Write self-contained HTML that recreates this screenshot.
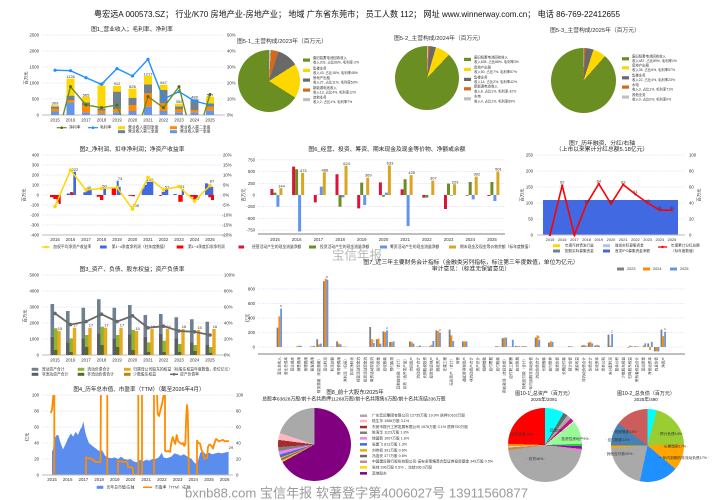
<!DOCTYPE html>
<html><head><meta charset="utf-8">
<style>
html,body{margin:0;padding:0;background:#fff}
#w{position:relative;width:714px;height:500px;overflow:hidden;background:#fff}
.p{position:absolute;border-radius:50%}
svg{position:absolute;left:0;top:0}
text{font-family:"Liberation Sans","Noto Sans CJK SC",sans-serif;fill:#333;dominant-baseline:central}
.t{font-size:5.8px;text-anchor:middle;fill:#222}
.k{font-size:4.3px}
.l{font-size:3.8px}
.s{font-size:3.4px}
.g{stroke:#c8c8f0;stroke-width:0.5;stroke-dasharray:1.2 1.2;fill:none}
.ax{stroke:#bbb;stroke-width:1;fill:none}
</style></head><body><div id="w">
<div class="p" style="left:238px;top:50px;width:62px;height:62px;background:conic-gradient(#C0C0C0 0 1%,#D2691E 1% 5%,#696969 5% 16%,#FFD700 16% 34%,#6B8E23 34% 100%)"></div>
<div class="p" style="left:395px;top:46px;width:64px;height:64px;background:conic-gradient(#C0C0C0 0 0.6%,#D2691E 0.6% 1.3%,#696969 1.3% 4.5%,#FFD700 4.5% 12%,#6B8E23 12% 100%)"></div>
<div class="p" style="left:550.5px;top:47.5px;width:65px;height:65px;background:conic-gradient(#C0C0C0 0 0.3%,#D2691E 0.3% 1%,#696969 1% 5%,#FFD700 5% 11.5%,#6B8E23 11.5% 100%)"></div>
<div class="p" style="left:277.5px;top:407.5px;width:73px;height:73px;background:conic-gradient(#800080 0 67%,#FFD700 67% 67.5%,#BC8F8F 67.5% 68%,#696969 68% 68.6%,#FFA500 68.6% 69.2%,#4169E1 69.2% 70.5%,#EE82EE 70.5% 72.1%,#808080 72.1% 73.9%,#A52A2A 73.9% 77%,#FFB6C1 77% 80.1%,#A9A9A9 80.1% 100%)"></div>
<div class="p" style="left:508.3px;top:408.3px;width:73.4px;height:73.4px;background:conic-gradient(#00FFFF 0 30deg,#696969 30deg 37deg,#A9A9A9 37deg 44deg,#C71585 44deg 50deg,#E8E8E8 50deg 52deg,#98FB98 52deg 88deg,#32CD32 88deg 92deg,#9400D3 92deg 96deg,#FF69B4 96deg 98deg,#A9A9A9 98deg 262deg,#CD853F 262deg 266deg,#D3D3D3 266deg 268deg,#FF8C00 268deg 272deg,#FF0000 272deg 360deg)"></div>
<div class="p" style="left:610.5px;top:408.5px;width:73px;height:73px;background:conic-gradient(#00FFFF 0 14.5deg,#9ACD32 14.5deg 88deg,#FFA500 88deg 130deg,#1E90FF 130deg 192deg,#A9A9A9 192deg 266deg,#FFA500 266deg 270deg,#4682B4 270deg 307deg,#CD5C5C 307deg 360deg)"></div>

<svg width="714" height="500" viewBox="0 0 714 500">
<defs>
<clipPath id="c1"><rect x="42" y="30" width="184" height="85"/></clipPath>
<clipPath id="c4"><rect x="40" y="395" width="200" height="80"/></clipPath>
</defs>

<text x="357" y="14" font-size="8.3" text-anchor="middle" textLength="526" lengthAdjust="spacingAndGlyphs" style="fill:#111">粤宏远A 000573.SZ； 行业/K70 房地产业-房地产业； 地域 广东省东莞市； 员工人数 112； 网址 www.winnerway.com.cn； 电话 86-769-22412655</text>

<!-- ===== Chart 1 ===== -->
<text class="t" x="132" y="30">图1_营业收入；毛利率、净利率</text>
<path class="g" d="M42 35H225M42 51H225M42 67H225M42 83H225M42 99H225"/>
<path class="ax" d="M42 115H225"/>
<g class="k" style="text-anchor:end"><text x="39" y="35">2500</text><text x="39" y="51">2000</text><text x="39" y="67">1500</text><text x="39" y="83">1000</text><text x="39" y="99">500</text><text x="39" y="115">0</text></g>
<g class="k"><text x="227" y="35">50%</text><text x="227" y="51">40%</text><text x="227" y="67">30%</text><text x="227" y="83">20%</text><text x="227" y="99">10%</text><text x="227" y="115">0%</text></g>
<text class="k" transform="translate(26,78) rotate(-90)" style="text-anchor:middle">百万元</text>
<g class="k" style="text-anchor:middle"><text x="55" y="120">2015</text><text x="70.5" y="120">2016</text><text x="86" y="120">2017</text><text x="101.5" y="120">2018</text><text x="117" y="120">2019</text><text x="132.5" y="120">2020</text><text x="148" y="120">2021</text><text x="163.5" y="120">2022</text><text x="179" y="120">2023</text><text x="194.5" y="120">2024</text><text x="210" y="120">2025</text></g>
<path fill="#6495ED" d="M51 111.48h8V115h-8zM66.5 102.33h8V115h-8zM82 112.34h8V115h-8zM97.5 113.34h8V115h-8zM113 112.34h8V115h-8zM128.5 111h8V115h-8zM144 106.68h8V115h-8zM159.5 111h8V115h-8zM175 112.34h8V115h-8zM190.5 112.34h8V115h-8zM206 110.68h8V115h-8z"/>
<path fill="#FF8C00" d="M51 108.92h8V111.48h-8zM66.5 99.96h8V102.33h-8zM82 105.02h8V112.34h-8zM97.5 110.68h8V113.34h-8zM113 109.02h8V112.34h-8zM128.5 105.02h8V111h-8zM144 93.34h8V106.68h-8zM159.5 103.35h8V111h-8zM175 109.02h8V112.34h-8zM190.5 110.01h8V112.34h-8zM206 106.68h8V110.68h-8z"/>
<path fill="#708090" d="M51 106.68h8V108.92h-8zM66.5 95.67h8V99.96h-8zM82 102.33h8V105.02h-8zM97.5 108.34h8V110.68h-8zM113 91.67h8V109.02h-8zM128.5 97.69h8V105.02h-8zM144 84.34h8V93.34h-8zM159.5 90.04h8V103.35h-8zM175 106.36h8V109.02h-8zM190.5 99.35h8V110.01h-8zM206 103.35h8V106.68h-8z"/>
<path fill="#FFD700" d="M51 105.11h8V106.68h-8zM66.5 78.68h8V95.67h-8zM82 96.92h8V102.33h-8zM97.5 85.66h8V108.34h-8zM113 85.82h8V91.67h-8zM128.5 88.57h8V97.69h-8zM144 76.06h8V84.34h-8zM159.5 84.7h8V90.04h-8zM175 103.74h8V106.36h-8zM206 96.86h8V103.35h-8z"/>
<g class="k" style="text-anchor:middle;font-size:4px"><text x="55" y="103">309</text><text x="70.5" y="76.5">1135</text><text x="86" y="95">565</text><text x="101.5" y="83.5">917</text><text x="117" y="83.5">912</text><text x="132.5" y="86.5">826</text><text x="148" y="74">1217</text><text x="163.5" y="82.5">947</text><text x="179" y="101.5">352</text><text x="194.5" y="97">489</text><text x="210" y="95">567</text></g>
<g clip-path="url(#c1)">
<polyline fill="none" stroke="#1E90FF" stroke-width="1.4" points="55,70.2 70.5,70.68 86,77.72 101.5,84.28 117,68.6 132.5,75.96 148,59.32 163.5,99 179,91.64 194.5,101 210,105"/>
<g fill="#1E90FF"><circle cx="55" cy="70.2" r="1.6"/><circle cx="70.5" cy="70.68" r="1.6"/><circle cx="86" cy="77.72" r="1.6"/><circle cx="101.5" cy="84.28" r="1.6"/><circle cx="117" cy="68.6" r="1.6"/><circle cx="132.5" cy="75.96" r="1.6"/><circle cx="148" cy="59.32" r="1.6"/><circle cx="163.5" cy="99" r="1.6"/><circle cx="179" cy="91.64" r="1.6"/><circle cx="194.5" cy="101" r="1.6"/><circle cx="210" cy="105" r="1.6"/></g>
<polyline fill="none" stroke="#6B8E23" stroke-width="1.4" points="55,147 70.5,86.68 86,105 101.5,107.64 117,105 132.5,147 148,96.6 163.5,107.64 179,86.68 194.5,147 210,94.36"/>
<g fill="#4F6B1A"><circle cx="70.5" cy="86.68" r="1.5"/><circle cx="86" cy="105" r="1.5"/><circle cx="101.5" cy="107.64" r="1.5"/><circle cx="117" cy="105" r="1.5"/><circle cx="148" cy="96.6" r="1.5"/><circle cx="163.5" cy="107.64" r="1.5"/><circle cx="179" cy="86.68" r="1.5"/><circle cx="210" cy="94.36" r="1.5"/></g>
</g>
<path d="M56.7 127.7h10" stroke="#6B8E23" stroke-width="1.2"/><circle cx="61.7" cy="127.7" r="1.3" fill="#4F6B1A"/>
<path d="M88 127.7h10" stroke="#1E90FF" stroke-width="1.2"/><circle cx="93" cy="127.7" r="1.3" fill="#1E90FF"/>
<rect x="118" y="126.2" width="7" height="3" fill="#FFD700"/><rect x="170" y="126.2" width="7" height="3" fill="#FF8C00"/>
<rect x="118" y="130.2" width="7" height="3" fill="#708090"/><rect x="170" y="130.2" width="7" height="3" fill="#6495ED"/>
<g class="l"><text x="69" y="127.7">净利率</text><text x="100" y="127.7">毛利率</text><text x="128" y="127.7">营业收入第四季度</text><text x="180" y="127.7">营业收入第二季度</text><text x="128" y="131.7">营业收入第三季度</text><text x="180" y="131.7">营业收入第一季度</text></g>

<!-- ===== Pie 5 titles / legends ===== -->
<g class="t" style="text-anchor:start"><text x="237" y="42">图5-1_主营构成/2023年（百万元）</text><text x="394" y="39">图5-2_主营构成/2024年（百万元）</text><text x="550" y="31">图5-3_主营构成/2025年（百万元）</text></g>
<g>
<rect x="303" y="58.5" width="7" height="3.2" fill="#6B8E23"/><rect x="303" y="68.8" width="7" height="3.2" fill="#FFD700"/><rect x="303" y="78.5" width="7" height="3.2" fill="#696969"/><rect x="303" y="88.5" width="7" height="3.2" fill="#D2691E"/><rect x="303" y="98" width="7" height="3.2" fill="#C0C0C0"/>
<g class="s"><text x="313" y="58">废旧铅蓄电池回收收入</text><text x="313" y="62.6">收入203, 占比66%, 毛利率-2%</text><text x="313" y="68.3">售楼业务</text><text x="313" y="72.9">收入43, 占比18%, 毛利率48%</text><text x="313" y="78">房地产出租</text><text x="313" y="82.6">收入27, 占比11%, 毛利率53%</text><text x="313" y="88">新能源电池收入</text><text x="313" y="92.6">收入13, 占比4%, 毛利率12%</text><text x="313" y="97.5">其他业务</text><text x="313" y="102.1">收入2, 占比1%, 毛利率7%</text></g>
<rect x="464" y="57.8" width="7" height="3.2" fill="#6B8E23"/><rect x="464" y="67.8" width="7" height="3.2" fill="#FFD700"/><rect x="464" y="77.8" width="7" height="3.2" fill="#696969"/><rect x="464" y="87.2" width="7" height="3.2" fill="#D2691E"/><rect x="464" y="97.2" width="7" height="3.2" fill="#C0C0C0"/>
<g class="s"><text x="474" y="57.3">废旧铅蓄电池回收收入</text><text x="474" y="61.9">收入628, 占比88%, 毛利率3%</text><text x="474" y="67.3">房地产出租</text><text x="474" y="71.9">收入50, 占比7%, 毛利率57%</text><text x="474" y="77.3">售楼业务</text><text x="474" y="81.9">收入14, 占比2%, 毛利率42%</text><text x="474" y="86.7">新能源电池收入</text><text x="474" y="91.3">收入8, 占比1%, 毛利率-32%</text><text x="474" y="96.7">水电</text><text x="474" y="101.3">收入4, 占比1%, 毛利率69%</text></g>
<rect x="622" y="57.2" width="7" height="3.2" fill="#6B8E23"/><rect x="622" y="66.2" width="7" height="3.2" fill="#FFD700"/><rect x="622" y="76.2" width="7" height="3.2" fill="#696969"/><rect x="622" y="85.5" width="7" height="3.2" fill="#D2691E"/><rect x="622" y="95.5" width="7" height="3.2" fill="#C0C0C0"/>
<g class="s"><text x="632" y="56.7">废旧铅蓄电池回收收入</text><text x="632" y="61">收入487, 占比89%, 毛利率1%</text><text x="632" y="65.7">房地产出租</text><text x="632" y="70">收入35, 占比6%, 毛利率57%</text><text x="632" y="75.7">售楼业务</text><text x="632" y="80">收入22, 占比4%, 毛利率23%</text><text x="632" y="85">水电</text><text x="632" y="89.3">收入3, 占比1%, 毛利率71%</text><text x="632" y="95">其他业务</text><text x="632" y="99.3">收入0, 占比0%, 毛利率0%</text></g>
</g>

<!-- ===== Chart 2 ===== -->
<text class="t" x="132" y="150">图2_净利润、扣非净利润；净资产收益率</text>
<path class="g" d="M42 155H225M42 165H225M42 175H225M42 185H225M42 195H225M42 205H225M42 215H225M42 225H225"/>
<path class="ax" d="M42 235H225"/>
<g class="k" style="text-anchor:end"><text x="39" y="155">400</text><text x="39" y="165">300</text><text x="39" y="175">200</text><text x="39" y="185">100</text><text x="39" y="195">0</text><text x="39" y="205">-100</text><text x="39" y="215">-200</text><text x="39" y="225">-300</text><text x="39" y="235">-400</text></g>
<g class="k"><text x="223" y="155">20%</text><text x="223" y="165">15%</text><text x="223" y="175">10%</text><text x="223" y="185">5%</text><text x="223" y="195">0%</text><text x="222" y="205">-5%</text><text x="222" y="215">-10%</text><text x="222" y="225">-15%</text><text x="222" y="235">-20%</text></g>
<text class="k" transform="translate(24,195) rotate(-90)" style="text-anchor:middle">百万元</text>
<g class="k" style="text-anchor:middle"><text x="55" y="239.5">2015</text><text x="70.5" y="239.5">2016</text><text x="86" y="239.5">2017</text><text x="101.5" y="239.5">2018</text><text x="117" y="239.5">2019</text><text x="132.5" y="239.5">2020</text><text x="148" y="239.5">2021</text><text x="163.5" y="239.5">2022</text><text x="179" y="239.5">2023</text><text x="194.5" y="239.5">2024</text><text x="210" y="239.5">2025</text></g>
<path fill="#4169E1" d="M66.7 193.5h3.3v1.5h-3.3zM70 192h2v3h-2zM73.3 171.7h2.7v23.3h-2.7zM83.3 192.3h2.7v2.7h-2.7zM86 190h2.7v5h-2.7zM88.7 190h3v5h-3zM103.3 188.3h2.7v6.7h-2.7zM116.7 180.7h2v14.3h-2zM118.7 186.7h2v8.3h-2zM141.7 188.3h2.6v6.7h-2.6zM144.3 185h2.4v10h-2.4zM146.7 181.7h3.3v13.3h-3.3zM150 181.7h3.3v13.3h-3.3zM161.7 191.7h3.3v3.3h-3.3zM165 189.3h3.3v5.7h-3.3zM173.3 194h3.4v1h-3.4zM181.7 189.3h2.3v5.7h-2.3zM195 195h3v3h-3zM205 183.3h2.7v11.7h-2.7zM207.7 184.3h3v10.7h-3zM210.7 186.7h2.6v8.3h-2.6z"/>
<path fill="#FF0000" d="M50 195h3.3v2.3h-3.3zM53.3 195h3.4v4h-3.4zM56.7 195h2v6.7h-2zM58.7 195h2v9h-2zM70.7 192.3h2.6v2.7h-2.6zM96.7 195h3.3v1.7h-3.3zM100 195h3.3v5h-3.3zM111.7 188.3h4.3v6.7h-4.3zM128.3 195h3.4v0.7h-3.4zM131.7 195h3.3v1.3h-3.3zM159.3 195h2.4v1h-2.4zM178.3 195h4.4v6.7h-4.4zM190 195h3.3v1.7h-3.3zM193.3 195h3.4v5h-3.4zM208.3 195h2.7v2.3h-2.7zM211 195h3v5h-3z"/>
<g class="k" style="text-anchor:middle;font-size:4px"><text x="58" y="202">-78</text><text x="75" y="169.5">222</text><text x="89" y="187.5">40</text><text x="104.5" y="186">50</text><text x="120" y="178.5">73</text><text x="135" y="205.5">-105</text><text x="150" y="179.5">150</text><text x="167" y="187">57</text><text x="182.5" y="186.5">51</text><text x="197" y="198.5">-47</text><text x="212" y="181">87</text></g>
<polyline fill="none" stroke="#FFD700" stroke-width="1.5" points="55,206.6 70.5,170 86,190 101.5,188.4 117,187.6 132.5,209 148,177.4 163.5,189.4 179,186.6 194.5,201 210,185.6"/>
<g fill="#FFD700"><circle cx="55" cy="206.6" r="1.8"/><circle cx="70.5" cy="170" r="1.8"/><circle cx="86" cy="190" r="1.8"/><circle cx="101.5" cy="188.4" r="1.8"/><circle cx="117" cy="187.6" r="1.8"/><circle cx="132.5" cy="209" r="1.8"/><circle cx="148" cy="177.4" r="1.8"/><circle cx="163.5" cy="189.4" r="1.8"/><circle cx="179" cy="186.6" r="1.8"/><circle cx="194.5" cy="201" r="1.8"/><circle cx="210" cy="185.6" r="1.8"/></g>
<path d="M41.7 247h8.3" stroke="#FFD700" stroke-width="1.3"/><circle cx="46" cy="247" r="1.4" fill="#FFD700"/>
<rect x="100" y="245.5" width="6.7" height="3" fill="#4169E1"/><rect x="176.7" y="245.5" width="6.7" height="3" fill="#FF0000"/><rect x="238.5" y="245.5" width="5.5" height="3" fill="#DC143C"/>
<g class="l"><text x="53.3" y="247">加权平均净资产收益率</text><text x="111.7" y="247">第1~4季度净利润（柱年度数值）</text><text x="188" y="247">第1~4季度扣非净利润</text></g>

<!-- ===== Chart 6 ===== -->
<text class="t" x="387" y="150">图6_经营、投资、筹资、期末现金及现金等价物、净额或余额</text>
<path class="g" d="M258 159.9H505M258 171.6H505M258 183.3H505M258 206.7H505M258 218.4H505M258 230.1H505"/>
<path d="M258 234H505" stroke="#aaa" stroke-width="1.5"/>
<g class="k" style="text-anchor:end"><text x="255" y="159.9">750</text><text x="255" y="171.6">500</text><text x="255" y="183.3">250</text><text x="255" y="195">0</text><text x="255" y="206.7">-250</text><text x="255" y="218.4">-500</text><text x="255" y="230.1">-750</text></g>
<text class="k" transform="translate(243.5,195) rotate(-90)" style="text-anchor:middle">百万元</text>
<g class="k" style="text-anchor:middle"><text x="275" y="239.5">2015</text><text x="296.7" y="239.5">2016</text><text x="318.4" y="239.5">2017</text><text x="340.1" y="239.5">2018</text><text x="361.8" y="239.5">2019</text><text x="383.5" y="239.5">2020</text><text x="405.2" y="239.5">2021</text><text x="426.9" y="239.5">2022</text><text x="448.6" y="239.5">2023</text><text x="470.3" y="239.5">2024</text><text x="492" y="239.5">2025</text></g>
<path fill="#DC143C" d="M270.4 188.96h3V195h-3zM292.1 166.59h3V195h-3zM313.8 195h3v7.35h-3zM335.5 174.27h3V195h-3zM357.2 195h3v13.38h-3zM378.9 182.32h3V195h-3zM400.6 189.34h3V195h-3zM422.3 195h3v2.67h-3zM444 195h3v14.04h-3zM465.7 195h3v0.66h-3zM487.4 195h3v0.98h-3z"/>
<path fill="#6B8E23" d="M273.4 192.66h3V195h-3zM295.1 169.26h3V195h-3zM316.8 194.7h3V195h-3zM338.5 195h3v11.7h-3zM360.2 182.64h3V195h-3zM381.9 195h3v1.68h-3zM403.6 179.28h3V195h-3zM425.3 195h3v2.67h-3zM447 183.63h3V195h-3zM468.7 181.94h3V195h-3zM490.4 181.94h3V195h-3z"/>
<path fill="#6495ED" d="M276.4 195h3v11.7h-3zM298.1 195h3v36.5h-3zM319.8 186.58h3V195h-3zM341.5 195h3v2.34h-3zM363.2 195h3v10.02h-3zM384.9 192.66h3V195h-3zM406.6 195h3v31.08h-3zM450 195h3v0.66h-3zM471.7 195h3v4.35h-3zM493.4 195h3v6.04h-3z"/>
<path fill="#DAA520" d="M279.4 188.26h3V195h-3zM301.1 172.86h3V195h-3zM322.8 172.26h3V195h-3zM344.5 165.8h3V195h-3zM366.2 177.73h3V195h-3zM387.9 165.38h3V195h-3zM409.6 175.11h3V195h-3zM431.3 180.63h3V195h-3zM453 184.28h3V195h-3zM474.7 176.65h3V195h-3zM496.4 171.55h3V195h-3z"/>
<g class="k" style="text-anchor:middle;font-size:4px"><text x="281.5" y="185.8">144</text><text x="303.2" y="170.4">473</text><text x="324.9" y="169.8">486</text><text x="346.6" y="163.3">624</text><text x="368.3" y="175.2">369</text><text x="390" y="162.9">633</text><text x="411.7" y="172.6">425</text><text x="433.4" y="178.1">307</text><text x="455.1" y="181.8">229</text><text x="476.8" y="174.2">392</text><text x="498.5" y="169">501</text></g>
<rect x="309" y="245.5" width="7" height="3" fill="#6B8E23"/><rect x="380" y="245.5" width="7" height="3" fill="#6495ED"/><rect x="449" y="245.5" width="7" height="3" fill="#DAA520"/>
<g class="l"><text x="252" y="247">经营活动产生的现金流量净额</text><text x="320" y="247">投资活动产生的现金流量净额</text><text x="390" y="247">筹资活动产生的现金流量净额</text><text x="460" y="247">期末现金及现金等价物余额（标年度数值）</text></g>

<!-- ===== Chart 7 ===== -->
<text class="t" x="602" y="144">图7_历年融资、分红/右轴</text>
<text class="t" x="602" y="150">（上市以来累计分红总额5.18亿元）</text>
<path class="g" d="M537 155H685M537 171H685M537 187H685M537 203H685M537 219H685"/>
<rect x="543" y="200" width="135" height="35" fill="#4169E1"/>
<path class="ax" d="M537 235H685"/>
<g class="k" style="text-anchor:end"><text x="533" y="155">250</text><text x="533" y="171">200</text><text x="533" y="187">150</text><text x="533" y="203">100</text><text x="533" y="219">50</text><text x="533" y="235">0</text></g>
<g class="k"><text x="689" y="155">100</text><text x="689" y="171">80</text><text x="689" y="187">60</text><text x="689" y="203">40</text><text x="689" y="219">20</text><text x="689" y="235">0</text></g>
<text class="k" transform="translate(522,195) rotate(-90)" style="text-anchor:middle">百万元</text>
<text class="k" transform="translate(699,195) rotate(-90)" style="text-anchor:middle">百万元</text>
<g class="k" style="text-anchor:middle;font-size:3.9px"><text x="550" y="239.5">2015</text><text x="562.2" y="239.5">2016</text><text x="574.4" y="239.5">2017</text><text x="586.6" y="239.5">2018</text><text x="598.8" y="239.5">2019</text><text x="611" y="239.5">2020</text><text x="623.2" y="239.5">2021</text><text x="635.4" y="239.5">2022</text><text x="647.6" y="239.5">2023</text><text x="659.8" y="239.5">2024</text><text x="672" y="239.5">2025</text></g>
<polyline fill="none" stroke="#FF0000" stroke-width="1.6" points="550,235 562.2,185.4 574.4,235 586.6,203.8 598.8,183.8 611,203.8 623.2,184.6 635.4,194.2 647.6,203 659.8,210.2 672,210.2"/>
<g fill="#FF0000"><circle cx="550" cy="235" r="1.2"/><circle cx="562.2" cy="185.4" r="1.2"/><circle cx="574.4" cy="235" r="1.2"/><circle cx="586.6" cy="203.8" r="1.2"/><circle cx="598.8" cy="183.8" r="1.2"/><circle cx="611" cy="203.8" r="1.2"/><circle cx="623.2" cy="184.6" r="1.2"/><circle cx="635.4" cy="194.2" r="1.2"/><circle cx="647.6" cy="203" r="1.2"/><circle cx="659.8" cy="210.2" r="1.2"/><circle cx="672" cy="210.2" r="1.2"/></g>
<g class="k" style="text-anchor:middle;font-size:4px;fill:#111"><text x="562.2" y="182">62</text><text x="586.6" y="201">39</text><text x="598.8" y="181">64</text><text x="611" y="201">39</text><text x="623.2" y="182">63</text><text x="635.4" y="191.5">51</text><text x="647.6" y="200.5">40</text><text x="659.8" y="207.5">31</text><text x="672" y="207.5">31</text></g>
<rect x="553" y="244.2" width="7" height="3" fill="#FFD700"/><rect x="603" y="244.2" width="7" height="3" fill="#B0C4DE"/>
<rect x="553" y="249.5" width="7" height="3" fill="#708090"/><rect x="603" y="249.5" width="7" height="3" fill="#4169E1"/>
<path d="M658 247h9" stroke="#FF0000" stroke-width="1.3"/><circle cx="662.5" cy="247" r="1.2" fill="#FF0000"/>
<g class="l" style="font-size:3.6px"><text x="565" y="245.7">年度可转债发行量</text><text x="615" y="245.7">增发实际募集资金</text><text x="565" y="251">配股实际募集资金</text><text x="615" y="251">首发IPO募集资金净额</text><text x="671" y="245.7">年度累计分红总额</text><text x="671" y="251">（标年度数值）</text></g>

<text x="357" y="255.5" font-size="12.5" text-anchor="middle" style="fill:#b8b8b8">宝信年报</text>

<!-- ===== Chart 3 ===== -->
<text class="t" x="132" y="270">图3_资产、负债、股东权益；资产负债率</text>
<path class="g" d="M42 275H225M42 291H225M42 307H225M42 323H225M42 339H225"/>
<path class="ax" d="M42 355H225"/>
<g class="k" style="text-anchor:end"><text x="39" y="275">5000</text><text x="39" y="291">4000</text><text x="39" y="307">3000</text><text x="39" y="323">2000</text><text x="39" y="339">1000</text><text x="39" y="355">0</text></g>
<g class="k"><text x="224" y="275">100%</text><text x="224" y="291">80%</text><text x="224" y="307">60%</text><text x="224" y="323">40%</text><text x="224" y="339">20%</text><text x="224" y="355">0%</text></g>
<text class="k" transform="translate(25,316) rotate(-90)" style="text-anchor:middle">百万元</text>
<g class="k" style="text-anchor:middle"><text x="55" y="360">2015</text><text x="70.5" y="360">2016</text><text x="86" y="360">2017</text><text x="101.5" y="360">2018</text><text x="117" y="360">2019</text><text x="132.5" y="360">2020</text><text x="148" y="360">2021</text><text x="163.5" y="360">2022</text><text x="179" y="360">2023</text><text x="194.5" y="360">2024</text><text x="210" y="360">2025</text></g>
<path fill="#708090" d="M50.5 304h3.6V336.7h-3.6zM66 311h3.6V342.4h-3.6zM81.5 307.7h3.6V338.4h-3.6zM97 299.3h3.6V333.4h-3.6zM112.5 307.7h3.6V338.4h-3.6zM128 305h3.6V334.4h-3.6zM143.5 315h3.6V336.7h-3.6zM159 314h3.6V334h-3.6zM174.5 317.3h3.6V338.4h-3.6zM190 319.3h3.6V342.4h-3.6zM205.5 321.7h3.6V345h-3.6z"/>
<path fill="#5a5e63" d="M50.5 336.7h3.6V355h-3.6zM66 342.4h3.6V355h-3.6zM81.5 338.4h3.6V355h-3.6zM97 333.4h3.6V355h-3.6zM112.5 338.4h3.6V355h-3.6zM128 334.4h3.6V355h-3.6zM143.5 336.7h3.6V355h-3.6zM159 334h3.6V355h-3.6zM174.5 338.4h3.6V355h-3.6zM190 342.4h3.6V355h-3.6zM205.5 345h3.6V355h-3.6z"/>
<path fill="#8DB62E" d="M53.9 328.3h3.6V350h-3.6zM69.4 338.4h3.6V351.8h-3.6zM84.9 335h3.6V346.7h-3.6zM100.4 326.7h3.6V345h-3.6zM115.9 335h3.6V346.7h-3.6zM131.4 330h3.6V350h-3.6zM146.9 342.4h3.6V351.8h-3.6zM162.4 340.7h3.6V351.8h-3.6zM177.9 344h3.6V351.8h-3.6zM193.4 345h3.6V351h-3.6zM208.9 347h3.6V352.6h-3.6z"/>
<path fill="#556B2F" d="M53.9 350h3.6V355h-3.6zM69.4 351.8h3.6V355h-3.6zM84.9 346.7h3.6V355h-3.6zM100.4 345h3.6V355h-3.6zM115.9 346.7h3.6V355h-3.6zM131.4 350h3.6V355h-3.6zM146.9 351.8h3.6V355h-3.6zM162.4 351.8h3.6V355h-3.6zM177.9 351.8h3.6V355h-3.6zM193.4 351h3.6V355h-3.6zM208.9 352.6h3.6V355h-3.6z"/>
<path fill="#E9A820" d="M57.3 331h3.4V355h-3.4zM72.8 327.7h3.4V355h-3.4zM88.3 327.7h3.4V355h-3.4zM103.8 327.7h3.4V355h-3.4zM119.3 327.7h3.4V355h-3.4zM134.8 331h3.4V355h-3.4zM150.3 329h3.4V355h-3.4zM165.8 329h3.4V355h-3.4zM181.3 329h3.4V355h-3.4zM196.8 330h3.4V355h-3.4zM212.3 329h3.4V355h-3.4z"/>
<g class="k" style="text-anchor:middle;font-size:4px"><text x="60" y="328.5">15</text><text x="75.5" y="325.2">17</text><text x="91" y="325.2">17</text><text x="106.5" y="325.2">17</text><text x="122" y="325.2">17</text><text x="137.5" y="328.5">15</text><text x="153" y="326.5">16</text><text x="168.5" y="326.5">16</text><text x="184" y="326.5">16</text><text x="199.5" y="327.5">15</text><text x="215" y="326.5">16</text></g>
<polyline fill="none" stroke="#696969" stroke-width="1.8" points="55,313.4 70.5,324.6 86,321.6 101.5,314.2 117,321.6 132.5,315.8 148,327.8 163.5,326.2 179,331 194.5,331.8 210,335"/>
<g fill="#696969"><circle cx="55" cy="313.4" r="1.8"/><circle cx="70.5" cy="324.6" r="1.8"/><circle cx="86" cy="321.6" r="1.8"/><circle cx="101.5" cy="314.2" r="1.8"/><circle cx="117" cy="321.6" r="1.8"/><circle cx="132.5" cy="315.8" r="1.8"/><circle cx="148" cy="327.8" r="1.8"/><circle cx="163.5" cy="326.2" r="1.8"/><circle cx="179" cy="331" r="1.8"/><circle cx="194.5" cy="331.8" r="1.8"/><circle cx="210" cy="335" r="1.8"/></g>
<rect x="31.7" y="367.8" width="6.6" height="3" fill="#708090"/><rect x="77.7" y="367.8" width="6.6" height="3" fill="#8DB62E"/><rect x="124" y="367.8" width="6.6" height="3" fill="#E9A820"/>
<rect x="31.7" y="372.8" width="6.6" height="3" fill="#5a5e63"/><rect x="77.7" y="372.8" width="6.6" height="3" fill="#556B2F"/><rect x="124" y="372.8" width="6.6" height="3" fill="#B8860B"/>
<path d="M170 374.3h8" stroke="#696969" stroke-width="1.5"/><circle cx="174" cy="374.3" r="1.3" fill="#696969"/>
<g class="l"><text x="41.7" y="369.3">流动资产合计</text><text x="87.3" y="369.3">流动负债合计</text><text x="133.3" y="369.3">归属母公司股东的权益（标股东权益年度数值，单位亿元）</text><text x="41.7" y="374.3">非流动资产合计</text><text x="87.3" y="374.3">非流动负债合计</text><text x="133.3" y="374.3">少数股东权益</text><text x="180" y="374.3">资产负债率</text></g>

<!-- ===== Chart 8 (financial indicators) ===== -->
<text class="t" x="471" y="263">图7_近三年主要财务会计指标（金融类另列指标，标注第三年度数值，单位为亿元）</text>
<text class="t" x="471" y="269.5">审计意见：（标准无保留意见）</text>
<rect x="617" y="267.5" width="7" height="3" fill="#808080"/><rect x="643" y="267.5" width="7" height="3" fill="#FF8C00"/><rect x="670" y="267.5" width="7" height="3" fill="#6495ED"/>
<g class="l"><text x="627" y="269">2023</text><text x="653" y="269">2024</text><text x="680" y="269">2025</text></g>
<path class="g" d="M258 289H685M258 303.5H685M258 318H685M258 332.5H685M258 347H685"/>
<path d="M258 354H685" stroke="#aaa" stroke-width="1.5"/>
<g class="k" style="text-anchor:end"><text x="255" y="289">800</text><text x="255" y="303.5">600</text><text x="255" y="318">400</text><text x="255" y="332.5">200</text><text x="255" y="347">0</text></g>
<text class="k" transform="translate(247.5,318) rotate(-90)" style="text-anchor:middle">亿元</text>
<path fill="#808080" d="M276.6 327.64h1.8V347h-1.8zM296.46 346.27h1.8V347h-1.8zM309.7 346.64h1.8V347h-1.8zM316.32 339.31h1.8V347h-1.8zM322.94 281.31h1.8V347h-1.8zM329.56 346.64h1.8V347h-1.8zM336.18 341.34h1.8V347h-1.8zM342.8 346.64h1.8V347h-1.8zM369.28 326.99h1.8V347h-1.8zM375.9 339.31h1.8V347h-1.8zM382.52 331.34h1.8V347h-1.8zM389.14 342h1.8V347h-1.8zM409 341.34h1.8V347h-1.8zM415.62 346.64h1.8V347h-1.8zM422.24 346.64h1.8V347h-1.8zM428.86 346.27h1.8V347h-1.8zM435.48 330.32h1.8V347h-1.8zM448.72 329.67h1.8V347h-1.8zM461.96 341.34h1.8V347h-1.8zM495.06 346.27h1.8V347h-1.8zM501.68 338.3h1.8V347h-1.8zM508.3 346.64h1.8V347h-1.8zM514.92 345.91h1.8V347h-1.8zM521.54 346.27h1.8V347h-1.8zM534.78 337.57h1.8V347h-1.8zM548.02 342.65h1.8V347h-1.8zM567.88 346.27h1.8V347h-1.8zM581.12 345.55h1.8V347h-1.8zM587.74 342.65h1.8V347h-1.8zM594.36 345.55h1.8V347h-1.8zM607.6 334.67h1.8V347h-1.8zM627.46 347h1.8v0.73h-1.8zM634.08 346.27h1.8V347h-1.8zM647.32 343.37h1.8V347h-1.8zM653.94 347h1.8v4.35h-1.8zM660.56 329.6h1.8V347h-1.8z"/>
<path fill="#FF8C00" d="M278.4 316.33h1.8V347h-1.8zM298.26 345.55h1.8V347h-1.8zM311.5 346.27h1.8V347h-1.8zM318.12 344.32h1.8V347h-1.8zM324.74 278.63h1.8V347h-1.8zM331.36 346.64h1.8V347h-1.8zM337.98 343.66h1.8V347h-1.8zM344.6 346.64h1.8V347h-1.8zM371.08 339.31h1.8V347h-1.8zM377.7 338.66h1.8V347h-1.8zM384.32 331.99h1.8V347h-1.8zM390.94 342h1.8V347h-1.8zM410.8 342h1.8V347h-1.8zM417.42 346.27h1.8V347h-1.8zM424.04 346.64h1.8V347h-1.8zM430.66 344.82h1.8V347h-1.8zM437.28 331.05h1.8V347h-1.8zM450.52 335.33h1.8V347h-1.8zM463.76 341.34h1.8V347h-1.8zM496.86 346.27h1.8V347h-1.8zM503.48 337.57h1.8V347h-1.8zM510.1 346.64h1.8V347h-1.8zM516.72 346.27h1.8V347h-1.8zM523.34 346.27h1.8V347h-1.8zM536.58 335.4h1.8V347h-1.8zM549.82 341.2h1.8V347h-1.8zM569.68 346.27h1.8V347h-1.8zM582.92 344.82h1.8V347h-1.8zM589.54 341.92h1.8V347h-1.8zM596.16 344.82h1.8V347h-1.8zM609.4 345.55h1.8V347h-1.8zM629.26 345.55h1.8V347h-1.8zM635.88 346.27h1.8V347h-1.8zM642.5 345.55h1.8V347h-1.8zM649.12 347h1.8v2.9h-1.8zM655.74 347h1.8v4.35h-1.8zM662.36 336.12h1.8V347h-1.8z"/>
<path fill="#6495ED" d="M280.2 308.65h1.8V347h-1.8zM300.06 345.91h1.8V347h-1.8zM313.3 345.91h1.8V347h-1.8zM319.92 343.66h1.8V347h-1.8zM326.54 279.65h1.8V347h-1.8zM333.16 346.64h1.8V347h-1.8zM339.78 344.32h1.8V347h-1.8zM372.88 343.01h1.8V347h-1.8zM379.5 343.66h1.8V347h-1.8zM386.12 330.32h1.8V347h-1.8zM392.74 341.34h1.8V347h-1.8zM412.6 343.66h1.8V347h-1.8zM419.22 345.55h1.8V347h-1.8zM425.84 346.64h1.8V347h-1.8zM432.46 340.98h1.8V347h-1.8zM439.08 332.64h1.8V347h-1.8zM452.32 340.98h1.8V347h-1.8zM465.56 341.34h1.8V347h-1.8zM498.66 346.64h1.8V347h-1.8zM505.28 337.57h1.8V347h-1.8zM511.9 339.75h1.8V347h-1.8zM518.52 346.27h1.8V347h-1.8zM525.14 346.27h1.8V347h-1.8zM538.38 339.75h1.8V347h-1.8zM551.62 341.92h1.8V347h-1.8zM571.48 346.64h1.8V347h-1.8zM584.72 345.55h1.8V347h-1.8zM591.34 343.37h1.8V347h-1.8zM597.96 345.55h1.8V347h-1.8zM611.2 333.95h1.8V347h-1.8zM631.06 346.27h1.8V347h-1.8zM637.68 346.64h1.8V347h-1.8zM644.3 343.37h1.8V347h-1.8zM650.92 341.92h1.8V347h-1.8zM657.54 347h1.8v4.35h-1.8zM664.16 331.77h1.8V347h-1.8z"/>
<g class="k" style="text-anchor:middle;font-size:3px"><text x="281" y="306">5</text><text x="327" y="277">9</text><text x="374" y="340.5">1</text><text x="387" y="328">2</text><text x="440" y="330">2</text><text x="539" y="337">1</text><text x="612" y="331.5">2</text><text x="665" y="329">2</text></g>
<g style="font-size:3.6px;text-anchor:end">
<text transform="translate(279.3,357) rotate(-90)">营业总收入</text><text transform="translate(285.92,357) rotate(-90)">营业总成本</text><text transform="translate(292.54,357) rotate(-90)">营业成本</text><text transform="translate(299.16,357) rotate(-90)">销售费用</text><text transform="translate(305.78,357) rotate(-90)">管理费用</text><text transform="translate(312.4,357) rotate(-90)">研发费用</text><text transform="translate(319.02,357) rotate(-90)">财务费用（利息费用）</text><text transform="translate(325.64,357) rotate(-90)">营业利润</text><text transform="translate(332.26,357) rotate(-90)">利润总额</text><text transform="translate(338.88,357) rotate(-90)">所得税费用</text><text transform="translate(345.5,357) rotate(-90)">净利润（归母）</text><text transform="translate(352.12,357) rotate(-90)">扣非净利润</text><text transform="translate(358.74,357) rotate(-90)">经营活动现金流</text><text transform="translate(365.36,357) rotate(-90)">投资活动现金流</text><text transform="translate(371.98,357) rotate(-90)">筹资活动现金流</text><text transform="translate(378.6,357) rotate(-90)">货币资金</text><text transform="translate(385.22,357) rotate(-90)">应收账款</text><text transform="translate(391.84,357) rotate(-90)">预付款项</text><text transform="translate(398.46,357) rotate(-90)">其他应收款（合计）</text><text transform="translate(405.08,357) rotate(-90)">存货（含开发产品）</text><text transform="translate(411.7,357) rotate(-90)">合同资产</text><text transform="translate(418.32,357) rotate(-90)">流动资产合计</text><text transform="translate(424.94,357) rotate(-90)">长期股权投资</text><text transform="translate(431.56,357) rotate(-90)">投资性房地产</text><text transform="translate(438.18,357) rotate(-90)">固定资产</text><text transform="translate(444.8,357) rotate(-90)">在建工程</text><text transform="translate(451.42,357) rotate(-90)">无形资产（合计）</text><text transform="translate(458.04,357) rotate(-90)">商誉</text><text transform="translate(464.66,357) rotate(-90)">递延所得税资产</text><text transform="translate(471.28,357) rotate(-90)">非流动资产合计</text><text transform="translate(477.9,357) rotate(-90)">资产总计</text><text transform="translate(484.52,357) rotate(-90)">短期借款</text><text transform="translate(491.14,357) rotate(-90)">应付票据</text><text transform="translate(497.76,357) rotate(-90)">应付账款</text><text transform="translate(504.38,357) rotate(-90)">预收款项（合同负债）</text><text transform="translate(511,357) rotate(-90)">应付职工薪酬</text><text transform="translate(517.62,357) rotate(-90)">应交税费</text><text transform="translate(524.24,357) rotate(-90)">其他应付款（合计）</text><text transform="translate(530.86,357) rotate(-90)">一年内到期非流动负债</text><text transform="translate(537.48,357) rotate(-90)">流动负债合计</text><text transform="translate(544.1,357) rotate(-90)">长期借款</text><text transform="translate(550.72,357) rotate(-90)">应付债券</text><text transform="translate(557.34,357) rotate(-90)">租赁负债</text><text transform="translate(563.96,357) rotate(-90)">长期应付款</text><text transform="translate(570.58,357) rotate(-90)">预计负债</text><text transform="translate(577.2,357) rotate(-90)">递延收益</text><text transform="translate(583.82,357) rotate(-90)">非流动负债合计</text><text transform="translate(590.44,357) rotate(-90)">负债合计</text><text transform="translate(597.06,357) rotate(-90)">实收资本</text><text transform="translate(603.68,357) rotate(-90)">资本公积</text><text transform="translate(610.3,357) rotate(-90)">未分配利润</text><text transform="translate(616.92,357) rotate(-90)">盈余公积</text><text transform="translate(623.54,357) rotate(-90)">少数股东权益</text><text transform="translate(630.16,357) rotate(-90)">归母股东权益</text><text transform="translate(636.78,357) rotate(-90)">所有者权益合计</text><text transform="translate(643.4,357) rotate(-90)">营运资金</text><text transform="translate(650.02,357) rotate(-90)">净营运资本</text><text transform="translate(656.64,357) rotate(-90)">有息负债</text><text transform="translate(663.26,357) rotate(-90)">净资产</text>
</g>

<!-- ===== Chart 4 ===== -->
<text class="t" x="139" y="390" style="font-size:5.6px">图4_历年总市值、市盈率（TTM）（截至2026年4月）</text>
<path class="g" d="M42 395H233M42 411H233M42 427H233M42 443H233M42 459H233"/>
<path fill="#5B8DEF" d="M52 451L52.8 450.2L54.4 439L56.7 435L58.3 435L60.6 443L63 449.4L65.3 444.6L67.7 439L70.8 433.4L73.2 436.6L75.6 431.8L77.9 435L80.3 429.4L81.8 427L83.4 421.4L85 431L86.5 436.6L88.9 443L92.8 446.2L96 448.6L99.1 451L102.2 450.2L104.6 455L107 457.4L111.7 458.2L114.8 457.4L118 459L121.1 456.6L124.2 459L127.4 459.8L130.5 459L133.6 461.4L136.8 462.2L139.9 459.8L143 461.4L146.2 459.8L149.3 460.6L152.5 459L155.6 459L158.7 457.4L161.9 452.6L163.4 457.4L166.6 458.2L171.3 456.6L174.4 453.4L177.6 454.2L180.7 455.8L183.9 454.2L188.6 457.4L191.7 459L193.3 461.4L195.6 463.8L198 460.6L200.4 452.6L202.7 451L205.8 454.2L209 452.6L212.1 454.2L215.3 453.4L218.4 452.6L221.6 453.4L224.7 452.6L228.6 451.8L228.6 475L52 475Z"/>
<path class="ax" d="M42 475H233"/>
<g clip-path="url(#c4)"><path fill="none" stroke="#FF8C00" stroke-width="1.8" stroke-linejoin="round" d="M50.7 413L52 410L53.3 396L53.6 385M54.3 385L54.3 480M86 480L86 457.4L88 458L92 459L93 460L96 462L100.5 462L101 385M107.3 385L107.3 480M118 480L118 461L120 461.4L126 462L127.5 462.2L128 467L132 467.4L133 468.6L133.5 480M138.3 480L138.3 385M142 385L142 480M154 480L154 385M156.7 385L157.7 414L159 416L160.5 410L162 404L163.5 396L164.5 385M165 385L165 450.7L166.7 451.5L168.3 451L170 452L171.5 442L172.7 437L174 441L175.3 444L176.7 435L178 441L180 443L181.7 444L183 443L184.3 446L185.3 444L186.3 415L187 405L187.7 412L188.3 438L189 480M197 480L197 440.6L198.5 443L200 443.5L201.5 450L203 453L204 458L205 459L206 458.6L207 457.5L208 447L209 445L210 444.6L211.5 446L213 448.6L214.5 443L216 439L217.5 440L219 441.4L221 440.6L223 439.8L225 441.4L227 441L229 441.4"/></g>
<text class="k" x="231" y="447.5" style="text-anchor:middle;font-size:4px">29</text>
<g class="k" style="text-anchor:end"><text x="39" y="395">100</text><text x="39" y="411">80</text><text x="39" y="427">60</text><text x="39" y="443">40</text><text x="39" y="459">20</text><text x="39" y="475">0</text></g>
<g class="k"><text x="236" y="395">100</text><text x="236" y="411">80</text><text x="236" y="427">60</text><text x="236" y="443">40</text><text x="236" y="459">20</text><text x="236" y="475">0</text></g>
<text class="k" transform="translate(27,437) rotate(-90)" style="text-anchor:middle">亿元</text>
<g class="k" style="text-anchor:middle"><text x="52" y="479.5">2015</text><text x="67.7" y="479.5">2016</text><text x="83.4" y="479.5">2017</text><text x="99.1" y="479.5">2018</text><text x="114.8" y="479.5">2019</text><text x="130.5" y="479.5">2020</text><text x="146.2" y="479.5">2021</text><text x="161.9" y="479.5">2022</text><text x="177.6" y="479.5">2023</text><text x="193.3" y="479.5">2024</text><text x="209" y="479.5">2025</text><text x="224.7" y="479.5">2026</text></g>
<rect x="96.7" y="485.8" width="6.6" height="3" fill="#5B8DEF"/>
<path d="M143 487.3h9" stroke="#FF8C00" stroke-width="1.5"/>
<g class="l"><text x="106.7" y="487.3">历年总市值/左轴</text><text x="155" y="487.3">市盈率（TTM）/右轴</text></g>

<!-- ===== Pie 8 shareholders ===== -->
<text class="t" x="355" y="393" style="font-size:5.4px">图8_前十大股东/2025年</text>
<text class="t" x="354" y="400" style="font-size:4.9px">总股本63828万股/前十名共质押11268万股/前十名共限售0万股/前十名共冻结336万股</text>
<g>
<rect x="360" y="414.5" width="7" height="2.5" fill="#A9A9A9"/><rect x="360" y="419.8" width="7" height="2.5" fill="#FFB6C1"/><rect x="360" y="425.8" width="7" height="2.5" fill="#A52A2A"/><rect x="360" y="431.5" width="7" height="2.5" fill="#808080"/><rect x="360" y="437.1" width="7" height="2.5" fill="#EE82EE"/><rect x="360" y="443.1" width="7" height="2.5" fill="#4169E1"/><rect x="360" y="449.1" width="7" height="2.5" fill="#FFA500"/><rect x="360" y="454.8" width="7" height="2.5" fill="#696969"/><rect x="360" y="460.5" width="7" height="2.5" fill="#BC8F8F"/><rect x="360" y="466.1" width="7" height="2.5" fill="#FFD700"/><rect x="360" y="472.1" width="7" height="2.5" fill="#800080"/>
<g class="s" style="font-size:3.7px"><text x="372" y="415.7">广东宏远集团有限公司 12735万股 19.9% 质押10162万股</text><text x="372" y="421">陆生华 1986万股 3.1%</text><text x="372" y="427">东莞市振兴工贸发展有限公司 1976万股 3.1% 质押750万股</text><text x="372" y="432.7">陈海华 1123万股 1.8%</text><text x="372" y="438.3">徐国新 1007万股 1.6%</text><text x="372" y="444.3">张建飞 813万股 1.3%</text><text x="372" y="450.3">刘伟权 391万股 0.6%</text><text x="372" y="456">冯连安 377万股 0.6%</text><text x="372" y="461.7">中国建设银行股份有限公司-诺安多策略混合型证券投资基金 349万股 0.5%</text><text x="372" y="467.3">张帅 336万股 0.5% ，冻结336.0万股</text><text x="372" y="473.3">其他股东</text></g>
</g>

<!-- ===== Pie 10 ===== -->
<text class="t" x="544" y="394" style="font-size:5px">图10-1_总资产（百万元）</text>
<text class="t" x="544" y="399.5" style="font-size:4.6px">2025年/2091</text>
<text class="t" x="646" y="394" style="font-size:5px">图10-2_总负债（百万元）</text>
<text class="t" x="646" y="399.5" style="font-size:4.6px">2025年/490</text>
<g class="s" style="font-size:3.7px;text-anchor:middle;fill:#222">
<text x="522" y="434.5">· 货币资金23% ·</text><text x="536" y="459">· 存货46% ·</text><text x="575" y="439">· 投资性房地产9% ·</text><text x="556" y="430.7">· 其他2% ·</text>
<text x="625.5" y="432">· 短期借款14% ·</text><text x="618.5" y="440">· 应付账款11% ·</text><text x="619.5" y="454">· 其他应付款20% ·</text><text x="671" y="434">· 预计负债14% ·</text><text x="675" y="446.7">· 长期借款17% ·</text><text x="683" y="458">· 一年内到期的非流动负债17% ·</text>
</g>

<text x="185" y="493" font-size="13" textLength="343" lengthAdjust="spacingAndGlyphs" style="fill:#9a9a9a">bxnb88.com 宝信年报 软著登字第4006027号 13911560877</text>
</svg>
</div></body></html>
